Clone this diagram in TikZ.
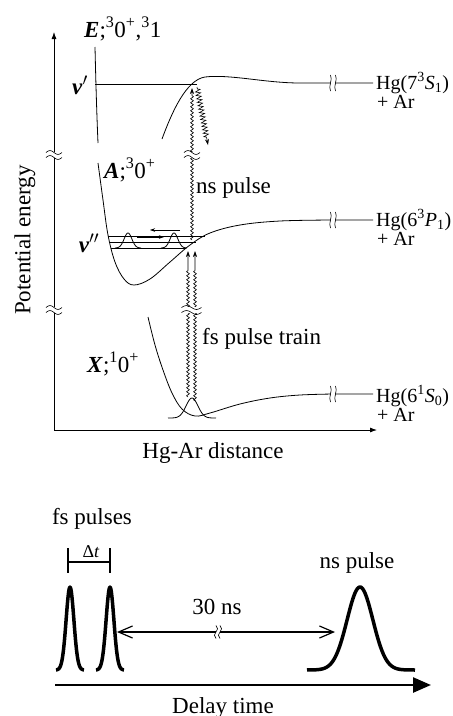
\documentclass[tikz,border=0pt]{standalone}
\usepackage{fontspec}
\setmainfont{Liberation Serif}
\usetikzlibrary{arrows.meta,decorations.pathmorphing}
\begin{document}
\begin{tikzpicture}[x=1pt,y=-1pt,font=\fontsize{23}{27}\selectfont,
  curve/.style={line width=0.8pt},
  axisline/.style={line width=0.8pt,-{Latex[length=7pt,width=5pt]}},
  wavy/.style={line width=0.6pt,-{Stealth[length=6pt,width=4pt]},decorate,
    decoration={snake,amplitude=1.4pt,segment length=4pt,post length=#1}},
  wavy/.default=6pt,
  pulseline/.style={line width=3.5pt,line join=round},
  lbl/.style={inner sep=0pt},
  hglbl/.style={inner sep=0pt,anchor=west,font=\fontsize{20}{22}\selectfont},
  hbreak/.pic={
    \fill[white] (-8,-3) rectangle (8,3);
    \draw[line width=0.6pt] (-8,-2.5) sin (-4,-4.5) cos (0,-2.5) sin (4,-0.5) cos (8,-2.5);
    \draw[line width=0.6pt] (-8,2.5) sin (-4,0.5) cos (0,2.5) sin (4,4.5) cos (8,2.5);
  },
  vbreak/.pic={
    \fill[white] (-2,-8) rectangle (2,8);
    \draw[line width=0.6pt] (-2.5,-8) .. controls (0,-3) and (-5,3) .. (-2.5,8);
    \draw[line width=0.6pt] (2.5,-8) .. controls (5,-3) and (0,3) .. (2.5,8);
  }
]
\useasboundingbox (0,0) rectangle (453,716);

% axes
\coordinate (O) at (54,430);
\coordinate (Ytop) at (54,32);
\coordinate (Xend) at (377,430);
\draw[axisline] (O) -- (Ytop);
\draw[axisline] (O) -- (Xend);
\pic at (54,155) {hbreak};
\pic at (54,310) {hbreak};
\node[lbl,rotate=90] (ylab) at (25,240) {Potential energy};
\node[lbl] (xlab) at (213,453) {Hg-Ar distance};

% E state
\draw[curve] (95,47) .. controls (96,90) and (97,120) .. (98,143);
\draw[curve] (162,139) .. controls (172,112) and (186,80) .. (205,77)
  .. controls (230,74) and (265,83) .. (300,83) -- (373,83);
\draw[curve] (95,84) -- (197,84);
\pic at (333,83) {vbreak};
\node[lbl,anchor=base west] (Elab) at (84,37) {\textbf{\textit{E}};\textsuperscript{3}0\textsuperscript{+},\textsuperscript{3}1};
\node[lbl] (vp) at (80,85) {\textbf{\textit{v}}$'$};
\node[hglbl] (HgE) at (376,83) {Hg(7\textsuperscript{3}\textit{S}\textsubscript{1})};
\node[hglbl] (ArE) at (377,102) {+ Ar};

% A state
\draw[curve] plot[smooth,tension=0.6] coordinates {(98,163) (103,200) (108,235) (115,262) (124,279) (134,285) (150,279) (170,262) (190,245) (210,233) (240,225) (280,221) (333,220)} -- (373,220);
\pic at (333,220) {vbreak};
\node[lbl,anchor=base west] (Alab) at (104,178) {\textbf{\textit{A}};\textsuperscript{3}0\textsuperscript{+}};
\node[hglbl] (HgA) at (376,220) {Hg(6\textsuperscript{3}\textit{P}\textsubscript{1})};
\node[hglbl] (ArA) at (377,239) {+ Ar};

% vibrational levels v''
\draw[line width=0.6pt] (108,236) -- (205,236);
\draw[line width=0.6pt] (110,242) -- (196,242);
\draw[line width=0.6pt] (111,248) -- (186,248);
\draw[line width=0.8pt] plot[domain=-13:13,samples=50] ({128+\x},{248-15*exp(-(\x*\x)/30)});
\draw[line width=0.8pt] plot[domain=-13:13,samples=50] ({174+\x},{248-15*exp(-(\x*\x)/30)});
\coordinate (r1) at (137,237); \coordinate (r2) at (164,237);
\coordinate (l1) at (180,230); \coordinate (l2) at (150,230);
\draw[line width=0.6pt,-{Stealth[length=5pt,width=3.5pt]}] (r1) -- (r2);
\draw[line width=0.6pt,-{Stealth[length=5pt,width=3.5pt]}] (l1) -- (l2);
\node[lbl] (vpp) at (89,243) {\textbf{\textit{v}}$''$};

% X state
\draw[curve] plot[smooth,tension=0.6] coordinates {(148,317) (155,345) (163,370) (172,393) (182,409) (195,416) (210,413) (240,404) (270,398) (300,395) (333,394)} -- (373,394);
\pic at (333,394) {vbreak};
\draw[line width=0.8pt] plot[domain=-24:24,samples=60] ({192+\x},{418-20*exp(-(\x*\x)/70)});
\node[lbl,anchor=base west] (Xlab) at (87,372) {\textbf{\textit{X}};\textsuperscript{1}0\textsuperscript{+}};
\node[hglbl] (HgX) at (376,396) {Hg(6\textsuperscript{1}\textit{S}\textsubscript{0})};
\node[hglbl] (ArX) at (377,415) {+ Ar};

% ns pulse excitation
\coordinate (nsB) at (192,240);
\coordinate (nsT) at (192,88);
\draw[wavy] (nsB) -- (nsT);
\pic at (192,155) {hbreak};
\node[lbl,anchor=west] (nslab) at (196,188) {ns pulse};
% zigzag downward arrow
\coordinate (zA) at (197,87);
\coordinate (zB) at (208,145);
\draw[line width=0.6pt,-{Stealth[length=6pt,width=4pt]},decorate,
  decoration={zigzag,amplitude=2.5pt,segment length=3.5pt,pre length=2pt,post length=8pt}] (zA) -- (zB);

% fs pulse train
\coordinate (f1B) at (188,397);
\coordinate (f1T) at (188,251);
\coordinate (f2B) at (195,401);
\coordinate (f2T) at (195,251);
\draw[wavy=18pt] (f1B) -- (f1T);
\draw[wavy=18pt] (f2B) -- (f2T);
\pic[xscale=1.25] at (191.5,310) {hbreak};
\node[lbl,anchor=west] (fslab) at (202,339) {fs pulse train};

% ---------- lower panel ----------
\node[lbl] (fsp) at (92,519) {fs pulses};
\coordinate (dt1a) at (68,548); \coordinate (dt1b) at (68,573);
\coordinate (dt2a) at (110,548); \coordinate (dt2b) at (110,573);
\draw[line width=1.5pt] (dt1a) -- (dt1b);
\draw[line width=1.5pt] (dt2a) -- (dt2b);
\draw[line width=1.5pt] (68,562) -- (110,562);
\node[lbl,font=\fontsize{18}{20}\selectfont] (dtlab) at (91,552) {Δ\textit{t}};

\draw[pulseline] plot[domain=-14:14,samples=60] ({70+\x},{670-83*exp(-(\x*\x)/30)});
\draw[pulseline] plot[domain=-14:14,samples=60] ({110+\x},{670-83*exp(-(\x*\x)/30)});
\draw[pulseline] plot[domain=-53:55,samples=100] ({360+\x},{670-83*exp(-(\x*\x)/330)});
\node[lbl] (nsp) at (357,563) {ns pulse};

\coordinate (dA) at (117,632);
\coordinate (dB) at (335,632);
\draw[line width=1.2pt,{Straight Barb[length=14pt,width=12pt]}-{Straight Barb[length=14pt,width=12pt]}] (dA) -- (dB);
\pic[rotate=90,scale=0.8] at (218,632) {hbreak};
\node[lbl] (t30) at (217,607) {30 ns};

\coordinate (tA) at (55,685);
\coordinate (tB) at (431,685);
\draw[line width=2.5pt,-{Triangle[length=18pt,width=15pt]}] (tA) -- (tB);
\node[lbl] (dlab) at (223,708) {Delay time};
\end{tikzpicture}
\end{document}
